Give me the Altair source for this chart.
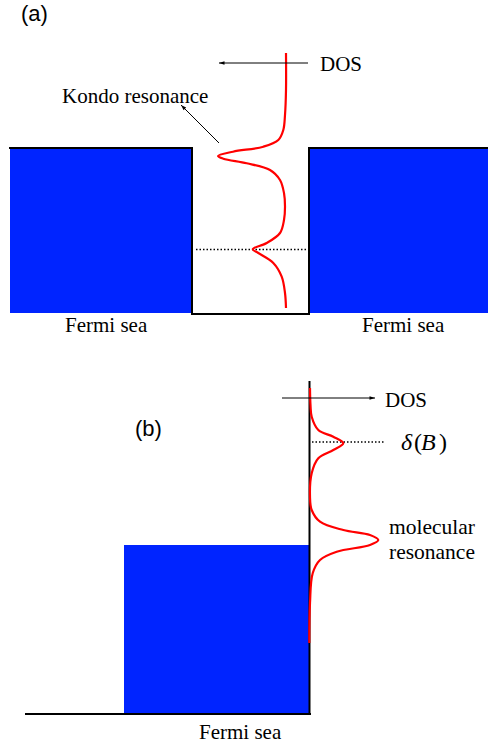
import altair as alt
import pandas as pd

W, H = 488, 745

# Fermi-sea fillings (diagram units: x to the right, energy axis y downward)
sea_x0 = [10, 309, 124]
sea_x1 = [192, 488, 309]
sea_y0 = [148, 148, 545]
sea_y1 = [313, 313, 714]

# Edges of the leads / quantum dot and of the energy axis in panel (b)
edge_x0 = [10, 192, 192, 309, 309, 26, 309.5]
edge_y0 = [148, 148, 314, 314, 148, 714, 382]
edge_x1 = [192, 192, 309, 309, 488, 310, 309.5]
edge_y1 = [148, 314, 314, 148, 148, 714, 714]

# Dotted level markers
dot_x0 = [196, 312]
dot_x1 = [310, 384]
dot_y = [249.5, 442]

# Dot density of states with the Kondo resonance, panel (a)
kondo_x = [286, 286, 285, 283.3, 278.3, 263.3, 233, 218, 223.3, 246.7, 270, 280,
           284, 285, 284, 280, 266.7, 252.7, 258.3, 273.3, 281.7, 285, 286]
kondo_y = [53, 90, 115, 130, 140, 146.7, 151.7, 156, 158.7, 163.3, 170, 180,
           193, 206.7, 220, 233, 243, 249.3, 253, 263, 276.7, 293, 308]

# Molecular density of states, panel (b)
mol_x = [310, 310.5, 311.7, 318.3, 333.3, 343.3, 333.3, 318.3, 311.7, 310, 311.7,
         320, 343.3, 370, 378.3, 370, 336.7, 320, 312.7, 310, 309.3]
mol_y = [388, 405, 416.7, 430, 436.7, 443.3, 450, 458.3, 473.3, 496.7, 510,
         521.7, 530, 535, 540, 545, 551.7, 560, 573.3, 603, 643]

# Arrows: tail (x0, y0) -> head (x1, y1)
arrow_x0 = [308, 219, 282]
arrow_y0 = [63, 143, 398]
arrow_x1 = [219, 181, 375]
arrow_y1 = [63, 105, 398]
arrow_dir = [180, 225, 0]

# Labels
lab_text = ["(a)", "(b)", "DOS", "DOS", "Kondo resonance", "Fermi sea", "Fermi sea",
            "Fermi sea", "molecular", "resonance"]
lab_x = [21, 135, 320, 385, 62, 65, 362, 199, 389, 389]
lab_y = [14, 429, 65, 401, 97, 326, 326, 733, 528, 553]
lab_font = ["Liberation Sans", "Liberation Sans"] + ["Liberation Serif"] * 8
lab_size = [22, 22, 21, 21, 21, 21, 21, 21, 21.5, 21.5]
lab_style = ["normal"] * 10

# Level label delta(B): italic symbols, upright parentheses
sym_text = ["δ", "(", "B", ")"]
sym_x = [401, 414, 421, 439]
sym_style = ["italic", "normal", "italic", "normal"]
sym_y = 443

xs = alt.Scale(domain=[0, W], nice=False, zero=False)
ys = alt.Scale(domain=[0, H], nice=False, zero=False, reverse=True)


def X(f):
    return alt.X(f, type="quantitative", scale=xs, axis=None)


def Y(f):
    return alt.Y(f, type="quantitative", scale=ys, axis=None)


seas = pd.DataFrame({"x0": sea_x0, "x1": sea_x1, "y0": sea_y0, "y1": sea_y1})
edges = pd.DataFrame({"x0": edge_x0, "x1": edge_x1, "y0": edge_y0, "y1": edge_y1})
dots = pd.DataFrame({"x0": dot_x0, "x1": dot_x1, "y": dot_y})
curves = pd.concat([
    pd.DataFrame({"x": kondo_x, "y": kondo_y, "curve": "kondo",
                  "i": range(len(kondo_x))}),
    pd.DataFrame({"x": mol_x, "y": mol_y, "curve": "molecular",
                  "i": range(len(mol_x))}),
])
arrows = pd.DataFrame({"x0": arrow_x0, "y0": arrow_y0, "x1": arrow_x1,
                       "y1": arrow_y1, "dir": arrow_dir})
labels = pd.DataFrame({"text": lab_text, "x": lab_x, "y": lab_y, "font": lab_font,
                       "size": lab_size, "style": lab_style})
symbols = pd.DataFrame({"text": sym_text, "x": sym_x, "y": sym_y,
                        "style": sym_style})

sea_layer = alt.Chart(seas).mark_rect(color="#0024ff").encode(
    x=X("x0"), x2="x1", y=Y("y0"), y2="y1")

edge_layer = alt.Chart(edges).mark_rule(color="black", strokeWidth=2,
                                        strokeCap="square").encode(
    x=X("x0"), x2="x1", y=Y("y0"), y2="y1")

dot_layer = alt.Chart(dots).mark_rule(color="black", strokeWidth=1.4,
                                      strokeDash=[1.5, 2]).encode(
    x=X("x0"), x2="x1", y=Y("y"))

curve_layer = alt.Chart(curves).mark_line(color="#ff0000", strokeWidth=2.2,
                                          interpolate="catmull-rom").encode(
    x=X("x"), y=Y("y"), detail="curve:N", order="i:Q")

arrow_layer = alt.Chart(arrows).mark_rule(color="black", strokeWidth=1).encode(
    x=X("x0"), x2="x1", y=Y("y0"), y2="y1")

head_layer = alt.Chart(arrows).mark_point(
    shape="M0,0 L-2,-0.65 L-2,0.65 Z", filled=True, color="black", opacity=1,
    size=30, strokeWidth=0).encode(
    x=X("x1"), y=Y("y1"), angle=alt.Angle("dir:Q", scale=None))

text_layers = []
for _, r in labels.iterrows():
    text_layers.append(
        alt.Chart(pd.DataFrame([r])).mark_text(
            align="left", baseline="middle", font=r["font"],
            fontSize=float(r["size"]), fontStyle=r["style"], color="black").encode(
            x=X("x"), y=Y("y"), text="text:N"))

for style in ["italic", "normal"]:
    text_layers.append(
        alt.Chart(symbols[symbols["style"] == style]).mark_text(
            align="left", baseline="middle", font="Liberation Serif", fontSize=24,
            fontStyle=style, color="black").encode(
            x=X("x"), y=Y("y"), text="text:N"))

chart = alt.layer(sea_layer, edge_layer, dot_layer, curve_layer, arrow_layer,
                  head_layer, *text_layers).properties(
    width=W, height=H, padding=0, autosize="none"
).configure_view(stroke=None)

chart.save("out.html", embed_options={"renderer": "svg", "actions": False})
